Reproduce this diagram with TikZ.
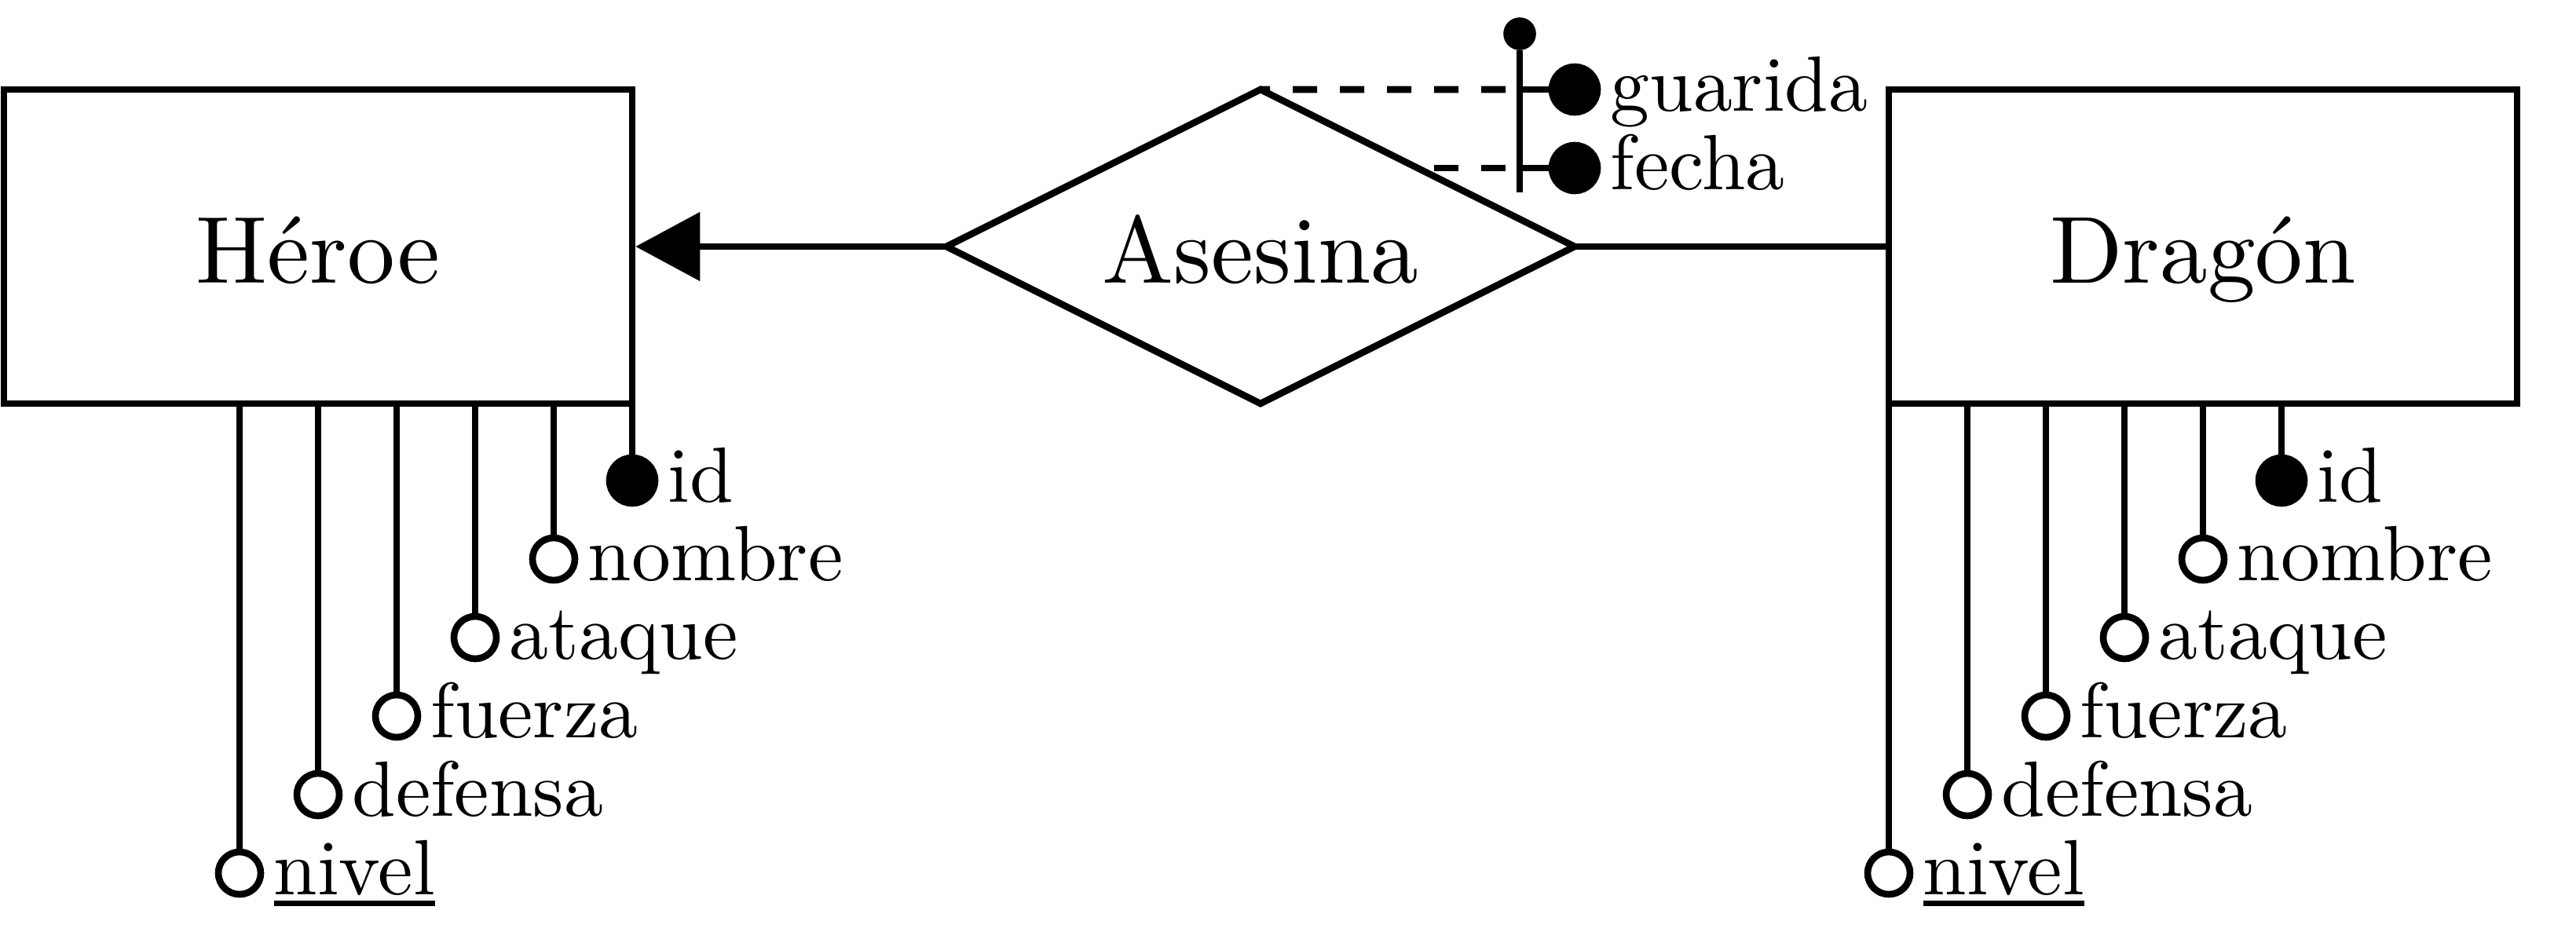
\documentclass[tikz,border=0pt]{standalone}
\usetikzlibrary{shapes.geometric,arrows.meta}
\font\mainfnt="[lmroman10-regular]" at 34.5pt
\font\attrfnt="[lmroman10-regular]" at 28.4pt
\newcommand\undl[1]{\setbox0\hbox{#1}\rlap{\rule[-0.15cm]{\wd0}{0.07cm}}\box0}
\begin{document}
\begin{tikzpicture}[line width=2.45pt,
  entity/.style={draw, rectangle, minimum width=8cm, minimum height=4cm, inner sep=0pt,
    text height=0.92cm, text depth=0pt, font=\mainfnt},
  relation/.style={draw, diamond, aspect=2, minimum width=8cm, minimum height=4cm, inner sep=0pt,
    outer sep=0pt, text height=0.92cm, text depth=0pt, font=\mainfnt},
  attr/.style={draw, circle, minimum size=0.54cm, inner sep=0pt},
  keyattr/.style={attr, fill, minimum size=0.58cm},
  bardot/.style={draw, circle, fill, minimum size=0.33cm, inner sep=0pt},
  lbl/.style={anchor=base west, inner sep=0pt, font=\attrfnt, xshift=0.08cm, yshift=-0.27cm},
  dashline/.style={dash pattern=on 0.31cm off 0.29cm, dash phase=0.42cm}
  ]
\useasboundingbox (0,0) rectangle (32.8,-12);

% main nodes
\node[entity] (heroe) at (4.05,-3.14) {Héroe};
\node[relation] (rel) at (16.05,-3.14) {Asesina};
\node[entity] (dragon) at (28.05,-3.14) {Dragón};

\draw[-{Triangle[length=0.82cm,width=0.86cm]}] (rel.west) -- (heroe.east);
\draw (rel.east) -- (dragon.west);

% attributes of Héroe
\node[keyattr] (h1) at (8.05,-6.12) {};
\node[attr] (h2) at (7.05,-7.12) {};
\node[attr] (h3) at (6.05,-8.12) {};
\node[attr] (h4) at (5.05,-9.12) {};
\node[attr] (h5) at (4.05,-10.12) {};
\node[attr] (h6) at (3.05,-11.12) {};
\foreach \n in {h1,h2,h3,h4,h5,h6} \draw (\n) -- (\n |- heroe.south);
\node[lbl] (h1l) at (h1.east) {id};
\node[lbl] (h2l) at (h2.east) {nombre};
\node[lbl] (h3l) at (h3.east) {ataque};
\node[lbl] (h4l) at (h4.east) {fuerza};
\node[lbl] (h5l) at (h5.east) {defensa};
\node[lbl] (h6l) at (h6.east) {\undl{nivel}};

% attributes of Dragón
\node[keyattr] (d1) at (29.05,-6.12) {};
\node[attr] (d2) at (28.05,-7.12) {};
\node[attr] (d3) at (27.05,-8.12) {};
\node[attr] (d4) at (26.05,-9.12) {};
\node[attr] (d5) at (25.05,-10.12) {};
\node[attr] (d6) at (24.05,-11.12) {};
\foreach \n in {d1,d2,d3,d4,d5,d6} \draw (\n) -- (\n |- dragon.south);
\node[lbl] (d1l) at (d1.east) {id};
\node[lbl] (d2l) at (d2.east) {nombre};
\node[lbl] (d3l) at (d3.east) {ataque};
\node[lbl] (d4l) at (d4.east) {fuerza};
\node[lbl] (d5l) at (d5.east) {defensa};
\node[lbl] (d6l) at (d6.east) {\undl{nivel}};

% attributes of the relationship
\node[bardot] (bt) at (19.35,-0.43) {};
\coordinate (bb) at (19.35,-2.45);
\coordinate (b1) at (19.35,-1.14);
\coordinate (b2) at (19.35,-2.14);
\draw (bt) -- (bb);
\node[keyattr] (g) at (20.05,-1.14) {};
\node[keyattr] (f) at (20.05,-2.14) {};
\draw[dashline] (b1) -- (rel.north);
\draw[dashline] (b2) -- (rel.north east);
\draw (b1) -- (g);
\draw (b2) -- (f);
\node[lbl] (gl) at (g.east) {guarida};
\node[lbl] (fl) at (f.east) {fecha};
\end{tikzpicture}
\end{document}
